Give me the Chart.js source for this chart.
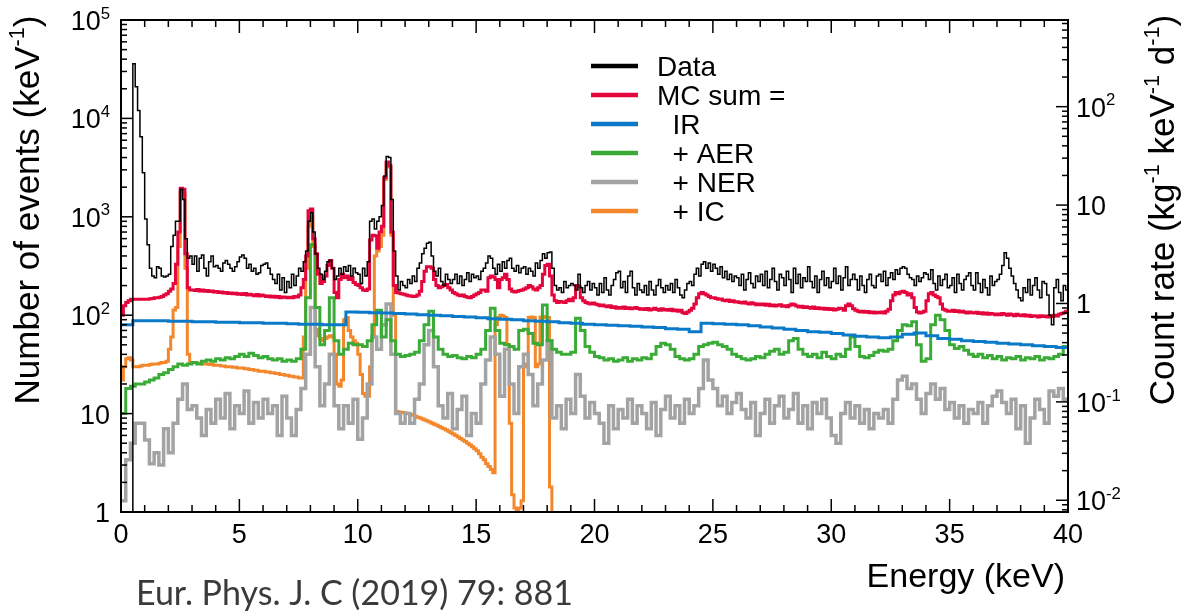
<!DOCTYPE html>
<html>
<head>
<meta charset="utf-8">
<title>Energy spectrum</title>
<script src="https://cdn.jsdelivr.net/npm/chart.js@4.4.1/dist/chart.umd.min.js"></script>
<style>
  html, body { margin: 0; padding: 0; background: #fff; }
  #wrap { width: 1183px; height: 612px; }
</style>
</head>
<body>
<div id="wrap"><canvas id="spectrum" width="1183" height="612"></canvas></div>
<script>
// energy axis (keV) and the two log axes (events / keV on the left, count rate on the right)
const xMin = 0, xMax = 40;
const yMin = 1, yMax = 1e5;
const rateMin = 0.0076, rateMax = 760;

const seriesLabels = ["Data", "MC sum =", "  IR", "  + AER", "  + NER", "  + IC"];
const citation = "Eur. Phys. J. C (2019) 79: 881";

// Data, 0.1 keV bins starting at 0 keV (one row per keV)
const dataBin = 0.1;
const dataCounts = [
  0, 0, 0, 0, 0, 36000, 21000, 12000, 6500, 2800,
  950, 520, 300, 250, 240, 310, 300, 250, 245, 250,
  260, 500, 650, 900, 900, 1900, 1500, 600, 380, 400,
  330, 400, 280, 380, 410, 300, 250, 350, 400, 310,
  320, 300, 280, 340, 360, 330, 300, 280, 310, 350,
  390, 410, 380, 300, 330, 280, 300, 260, 270, 320,
  330, 340, 300, 260, 230, 210, 260, 180, 240, 170,
  220, 190, 260, 200, 250, 300, 280, 350, 450, 900,
  1100, 700, 420, 300, 260, 230, 280, 350, 360, 300,
  230, 250, 300, 260, 310, 280, 320, 250, 300, 270,
  260, 210, 300, 250, 350, 900, 950, 750, 900, 1000,
  1300, 2600, 4100, 4000, 1500, 450, 250, 180, 220, 200,
  190, 230, 210, 250, 220, 300, 340, 420, 480, 540,
  550, 400, 280, 250, 300, 220, 200, 260, 230, 210,
  230, 260, 210, 250, 200, 230, 270, 220, 260, 240,
  250, 230, 280, 300, 340, 400, 380, 300, 260, 330,
  280, 350, 300, 360, 380, 300, 280, 320, 270, 300,
  310, 260, 300, 280, 250, 340, 300, 360, 420, 380,
  430, 440, 300, 200, 180, 190, 170, 220, 190, 200,
  210, 200, 180, 260, 190, 170, 200, 220, 180, 210,
  190, 160, 210, 170, 240, 180, 160, 200, 230, 270,
  280, 190, 220, 170, 250, 280, 190, 160, 210, 180,
  170, 200, 160, 220, 180, 160, 200, 230, 190, 170,
  200, 180, 210, 170, 230, 190, 160, 150, 180, 210,
  220, 200, 260, 300, 250, 330, 350, 300, 340, 280,
  330, 300, 260, 310, 240, 280, 230, 260, 220, 250,
  240, 200, 260, 180, 230, 270, 210, 190, 250, 220,
  260, 200, 280, 190, 230, 300, 220, 180, 260, 240,
  200, 280, 230, 170, 300, 210, 260, 190, 240, 220,
  310, 220, 190, 250, 170, 230, 280, 200, 240, 190,
  220, 300, 210, 250, 180, 240, 310, 200, 230, 260,
  230, 180, 250, 200, 170, 230, 260, 200, 190, 250,
  260, 220, 280, 200, 240, 270, 230, 290, 260, 300,
  310, 300, 260, 240, 230, 200, 250, 220, 240, 270,
  260, 230, 290, 210, 180, 250, 200, 230, 260, 190,
  200, 240, 170, 260, 210, 180, 230, 250, 270, 200,
  180, 270, 210, 170, 230, 190, 160, 250, 200, 220,
  230, 260, 320, 430, 380, 300, 250, 210, 180, 150,
  140, 190, 170, 230, 160, 200, 240, 180, 150, 220,
  210, 160, 100, 80, 190, 230, 170, 140, 200, 180
];

// MC sum, 0.1 keV bins
const mcBin = 0.1;
const mcSum = [
  100, 125, 135, 140, 145, 145, 145, 145, 145, 145,
  145, 145, 147, 148, 150, 150, 152, 155, 160, 165,
  175, 185, 210, 330, 700, 1950, 1900, 420, 190, 180,
  180, 178, 182, 176, 180, 175, 178, 174, 176, 172,
  174, 170, 172, 168, 170, 166, 168, 165, 167, 163,
  165, 162, 166, 160, 163, 160, 158, 162, 157, 160,
  158, 155, 157, 153, 156, 152, 155, 150, 153, 152,
  150, 152, 150, 155, 153, 160, 190, 230, 400, 1150,
  1200, 600, 420, 260, 210, 220, 250, 320, 360, 300,
  170, 150, 230, 260, 240, 250, 230, 240, 215, 205,
  200, 190, 180, 178, 185, 580, 650, 640, 480, 700,
  800, 2500, 3600, 3300, 700, 200, 170, 168, 165, 163,
  160, 158, 157, 155, 156, 160, 175, 220, 280, 310,
  310, 300, 230, 200, 190, 195, 200, 205, 190, 180,
  170, 165, 160, 158, 160, 155, 152, 150, 155, 160,
  165, 170, 180, 180, 175, 240, 250, 245, 230, 190,
  230, 240, 260, 230, 185, 175, 172, 175, 178, 180,
  185, 190, 200, 195, 185, 180, 190, 200, 260, 320,
  330, 250, 160, 140, 135, 138, 136, 135, 140, 145,
  140, 150, 200, 195, 150, 140, 135, 132, 130, 133,
  130, 128, 125, 127, 124, 122, 125, 120, 122, 118,
  120, 118, 121, 117, 119, 116, 118, 120, 117, 115,
  116, 114, 117, 113, 115, 118, 114, 112, 116, 113,
  114, 112, 115, 111, 113, 110, 112, 106, 104, 108,
  112, 118, 130, 150, 165, 170, 165, 160, 155, 150,
  150, 148, 145, 146, 142, 140, 143, 138, 140, 136,
  137, 135, 133, 136, 132, 130, 134, 131, 128, 130,
  128, 130, 126, 129, 125, 127, 124, 126, 128, 123,
  125, 122, 126, 130, 128, 124, 121, 123, 120, 122,
  120, 118, 121, 117, 119, 116, 118, 115, 117, 114,
  116, 113, 115, 118, 117, 112, 125, 130, 125, 116,
  112, 110, 108, 110, 107, 109, 106, 108, 105, 107,
  106, 108, 105, 110, 115, 140, 160, 170, 165, 172,
  175, 170, 160, 165, 150, 120, 108, 105, 107, 110,
  140, 165, 170, 160, 155, 150, 130, 115, 112, 110,
  110, 112, 109, 111, 108, 110, 107, 105, 108, 106,
  105, 107, 104, 106, 103, 105, 102, 104, 103, 101,
  103, 101, 104, 102, 100, 103, 101, 99, 102, 100,
  99, 101, 98, 100, 97, 99, 98, 96, 99, 97,
  98, 96, 99, 97, 100, 98, 102, 104, 106, 110
];

// IR, 0.5 keV bins
const irBin = 0.5;
const irCounts = [
  80, 88, 88, 88, 87, 87, 86, 86, 85, 85,
  84, 84, 83, 83, 82, 81, 81, 80, 80, 108,
  107, 106, 105, 104, 103, 101, 100, 99, 97, 96,
  94, 92, 91, 90, 88, 87, 86, 84, 83, 81,
  80, 79, 78, 77, 76, 75, 73, 72, 68, 83,
  82, 81, 80, 78, 76, 74, 72, 70, 68, 67,
  65, 63, 61, 60, 59, 60, 64, 66, 62, 58,
  57, 55, 54, 53, 52, 51, 50, 49, 48, 47
];

// AER, 0.2 keV bins
const aerBin = 0.2;
const aerCounts = [
  10, 18, 19, 20, 20,   21, 22, 23, 25, 26,   28, 30, 32, 31, 32,   33, 32, 34, 35, 34,
  36, 35, 37, 36, 38,   40, 38, 41, 39, 37,   38, 36, 35, 36, 34,   35, 34, 36, 45, 150,
  520, 120, 50, 70, 150,   55, 40, 45, 52, 50,   50, 48, 55, 80, 112,   60, 90, 55, 40, 38,
  39, 40, 42, 55, 80,   110, 60, 45, 40, 38,   39, 37, 36, 38, 37,   40, 45, 70, 118, 70,
  52, 50, 48, 45, 70,   72, 65, 52, 50, 127,   55, 45, 42, 40, 40,   42, 93, 70, 48, 42,
  38, 37, 35, 36, 34,   35, 37, 34, 36, 35,   37, 36, 40, 48, 52,   50, 45, 38, 36, 35,
  36, 40, 48, 50, 52,   53, 50, 48, 45, 40,   38, 36, 35, 36, 38,   37, 40, 43, 45, 40,
  42, 55, 58, 45, 40,   38, 40, 37, 42, 38,   36, 40, 38, 45, 60,   48, 38, 37, 39, 42,
  44, 43, 45, 55, 70,   80, 78, 86, 50, 34,   36, 80, 100, 90, 70,   50, 46, 48, 44, 40,
  38, 40, 37, 39, 36,   38, 35, 37, 36, 38,   35, 37, 36, 38, 35,   37, 36, 38, 40, 48
];

// NER, 0.2 keV bins
const nerBin = 0.2;
const nerCounts = [
  1.3, 3.4, 5, 8, 8,   5.4, 3.1, 4, 3, 7,   4, 8, 14, 20, 11,   12, 9, 6, 11, 8,
  14, 9, 16, 7, 12,   10, 17, 8, 13, 9,   14, 10, 12, 6, 15,   9, 6, 11, 18, 40,
  120, 30, 12, 20, 40,   12, 7, 12, 8, 14,   5.5, 9, 20, 60, 45,   80, 130, 40, 10, 8,
  10, 8, 14, 20, 50,   70, 30, 12, 9, 16,   7, 11, 15, 6, 10,   8, 20, 35, 60, 40,
  15, 45, 20, 10, 30,   40, 25, 12, 20, 35,   55, 9, 12, 7, 14,   10, 25, 15, 9, 13,
  10, 8, 5, 12, 7,   11, 9, 14, 8, 12,   10, 7, 13, 6, 11,   15, 9, 12, 8, 14,
  10, 12, 18, 35, 22,   18, 12, 15, 10, 13,   16, 11, 9, 13, 6,   10, 14, 8, 12, 15,
  9, 11, 16, 8, 12,   7, 13, 10, 14, 9,   6, 5, 10, 13, 9,   12, 8, 11, 7, 10,
  9, 11, 8, 14, 22,   24, 18, 20, 14, 10,   16, 20, 14, 18, 11,   13, 9, 12, 8, 11,
  10, 13, 8, 12, 15,   17, 13, 10, 14, 7,   12, 5, 9, 14, 11,   8, 17, 15, 18, 14
];

// IC, 0.1 keV bins (empty above 18.2 keV)
const icBin = 0.1;
const icCounts = [
  22, 30, 36, 37, 35, 30, 30, 30, 30.5, 31,
  31, 31, 31.5, 32, 32, 32, 32.5, 33, 33, 34,
  45, 60, 113, 120, 500, 1800, 1700, 300, 40, 33,
  33, 33, 32.5, 32.5, 32, 32, 32, 31.5, 31.5, 31,
  31, 31, 30.5, 30.5, 30, 30, 30, 29.5, 29.5, 29,
  29, 29, 28.5, 28.5, 28, 28, 27.5, 27.5, 27, 27,
  27, 26.5, 26.5, 26, 26, 25.5, 25.5, 25, 25, 24.5,
  24.5, 24, 24, 23.5, 23.5, 23, 23, 60, 300, 800,
  1000, 500, 72, 62, 58, 55, 58, 60, 62, 60,
  40, 20, 19, 22, 90, 95, 70, 60, 55, 52,
  40, 25, 16, 15, 15, 30, 60, 400, 450, 500,
  650, 2400, 3500, 3200, 650, 100, 10.5, 10.4, 10.3, 10.2,
  10.1, 10.0, 9.8, 9.6, 9.4, 9.2, 9.0, 8.8, 8.6, 8.4,
  8.2, 8.0, 7.8, 7.6, 7.4, 7.2, 7.0, 6.8, 6.6, 6.4,
  6.2, 6.0, 5.8, 5.6, 5.4, 5.2, 5.0, 4.8, 4.6, 4.4,
  4.2, 3.9, 3.6, 3.4, 3.1, 2.9, 2.7, 2.5, 80, 95,
  100, 98, 95, 50, 8, 1.5, 1.1, 1.05, 1.1, 1.3,
  30, 32, 95, 96, 95, 30, 32, 96, 97, 95,
  95, 1.8, 0
];

// empty bins sit below the frame, like ROOT draws them on a log axis
const FLOOR = 0.3;

// histogram -> points for a step-before line (one point per bin low edge + closing edge)
function steps(width, values) {
  const pts = values.map((v, i) => ({ x: +(i * width).toFixed(3), y: v > 0 ? v : FLOOR }));
  pts.push({ x: +(values.length * width).toFixed(3), y: pts[pts.length - 1].y });
  return pts;
}

const FONT = "'Liberation Sans', Arial, Helvetica, sans-serif";
function setFont(ctx, px) { ctx.font = px + "px " + FONT; }

// "keV^{-1}" -> normal / superscript pieces
function parseRich(text) {
  const parts = [];
  const re = /\^\{([^}]*)\}/g;
  let last = 0, m;
  while ((m = re.exec(text))) {
    if (m.index > last) parts.push({ t: text.slice(last, m.index) });
    parts.push({ t: m[1], sup: true });
    last = re.lastIndex;
  }
  if (last < text.length) parts.push({ t: text.slice(last) });
  return parts;
}

function drawRich(ctx, text, x, y, size, align) {
  const parts = parseRich(text);
  let w = 0;
  parts.forEach(p => {
    setFont(ctx, p.sup ? size * 0.62 : size);
    p.w = ctx.measureText(p.t).width;
    w += p.w;
  });
  if (align === "right") x -= w;
  else if (align === "center") x -= w / 2;
  ctx.textAlign = "left";
  ctx.textBaseline = "alphabetic";
  parts.forEach(p => {
    setFont(ctx, p.sup ? size * 0.62 : size);
    ctx.fillText(p.t, x, p.sup ? y - size * 0.42 : y);
    x += p.w;
  });
}

function decadeLabel(v) {
  const e = Math.round(Math.log10(v));
  if (e === 0) return "1";
  if (e === 1) return "10";
  return "10^{" + e + "}";
}

function logTicks(min, max) {
  const out = [];
  for (let e = Math.floor(Math.log10(min)); e <= Math.ceil(Math.log10(max)); e++) {
    for (let m = 1; m <= 9; m++) {
      const v = m * Math.pow(10, e);
      if (v >= min * 0.9999 && v <= max * 1.0001) out.push({ v, major: m === 1 });
    }
  }
  return out;
}

// ROOT-like frame: inward ticks, labels, titles and the legend box
const rootFrame = {
  id: "rootFrame",
  afterDraw(chart) {
    const { ctx, chartArea: a, scales } = chart;
    const sx = scales.x, sy = scales.y, sr = scales.y2;
    const seg = (x1, y1, x2, y2) => { ctx.beginPath(); ctx.moveTo(x1, y1); ctx.lineTo(x2, y2); ctx.stroke(); };

    ctx.save();
    ctx.strokeStyle = "#000";
    ctx.fillStyle = "#000";
    ctx.lineWidth = 1.5;

    // energy ticks, bottom and top
    for (let v = xMin; v <= xMax; v++) {
      const px = sx.getPixelForValue(v);
      const len = v % 5 === 0 ? 13 : 7;
      seg(px, a.bottom, px, a.bottom - len);
      seg(px, a.top, px, a.top + len);
      if (v % 5 === 0) drawRich(ctx, String(v), px, a.bottom + 31, 27, "center");
    }
    // left axis
    logTicks(yMin, yMax).forEach(t => {
      const py = sy.getPixelForValue(t.v);
      seg(a.left, py, a.left + (t.major ? 12 : 6), py);
      if (t.major) drawRich(ctx, decadeLabel(t.v), a.left - 11, py + 10, 27, "right");
    });
    // right axis
    logTicks(rateMin, rateMax).forEach(t => {
      const py = sr.getPixelForValue(t.v);
      seg(a.right, py, a.right - (t.major ? 12 : 6), py);
      if (t.major) drawRich(ctx, decadeLabel(t.v), a.right + 8, py + 10, 27, "left");
    });

    ctx.lineWidth = 2;
    ctx.strokeRect(a.left, a.top, a.right - a.left, a.bottom - a.top);

    // axis titles
    drawRich(ctx, "Energy (keV)", a.right - 3, 587, 34, "right");
    ctx.save();
    ctx.translate(39, (a.top + 400) / 2);
    ctx.rotate(-Math.PI / 2);
    drawRich(ctx, "Number of events (keV^{-1})", 0, 0, 35, "center");
    ctx.restore();
    ctx.save();
    ctx.translate(1174, (a.top + 400) / 2);
    ctx.rotate(-Math.PI / 2);
    drawRich(ctx, "Count rate (kg^{-1} keV^{-1} d^{-1})", 0, 0, 35, "center");
    ctx.restore();

    // legend
    chart.data.datasets.forEach((ds, i) => {
      const yy = 66 + i * 29;
      ctx.strokeStyle = ds.borderColor;
      ctx.lineWidth = 4.5;
      seg(591, yy, 638, yy);
      ctx.fillStyle = "#000";
      setFont(ctx, 28);
      ctx.textAlign = "left";
      ctx.textBaseline = "alphabetic";
      ctx.fillText(ds.label, 657, yy + 10);
    });

    // source
    ctx.fillStyle = "#3a3a3a";
    ctx.font = "34px Lato, 'Noto Sans', sans-serif";
    ctx.textAlign = "left";
    ctx.fillText(citation, 136, 605);
    ctx.restore();
  }
};

const lineStyle = { stepped: "before", pointRadius: 0, fill: false, tension: 0, clip: 0,
  borderCapStyle: "butt", borderJoinStyle: "miter" };

const datasets = [
  { label: seriesLabels[0], data: steps(dataBin, dataCounts), borderColor: "#000000", borderWidth: 1.5 },
  { label: seriesLabels[1], data: steps(mcBin, mcSum), borderColor: "#e4053c", borderWidth: 3 },
  { label: seriesLabels[2], data: steps(irBin, irCounts), borderColor: "#0a79c7", borderWidth: 3 },
  { label: seriesLabels[3], data: steps(aerBin, aerCounts), borderColor: "#3aab36", borderWidth: 3 },
  { label: seriesLabels[4], data: steps(nerBin, nerCounts), borderColor: "#a3a3a3", borderWidth: 3.5 },
  { label: seriesLabels[5], data: steps(icBin, icCounts), borderColor: "#f3872b", borderWidth: 3 },
].map(d => Object.assign({}, lineStyle, d));

new Chart(document.getElementById("spectrum"), {
  type: "line",
  data: { datasets },
  options: {
    responsive: false,
    animation: false,
    events: [],
    layout: { padding: { left: 121, right: 115, top: 20, bottom: 100 } },
    plugins: { legend: { display: false }, tooltip: { enabled: false } },
    scales: {
      x: { type: "linear", min: xMin, max: xMax, display: false },
      y: { type: "logarithmic", min: yMin, max: yMax, display: false },
      y2: { type: "logarithmic", position: "right", min: rateMin, max: rateMax, display: false },
    },
  },
  plugins: [rootFrame],
});
</script>
</body>
</html>
